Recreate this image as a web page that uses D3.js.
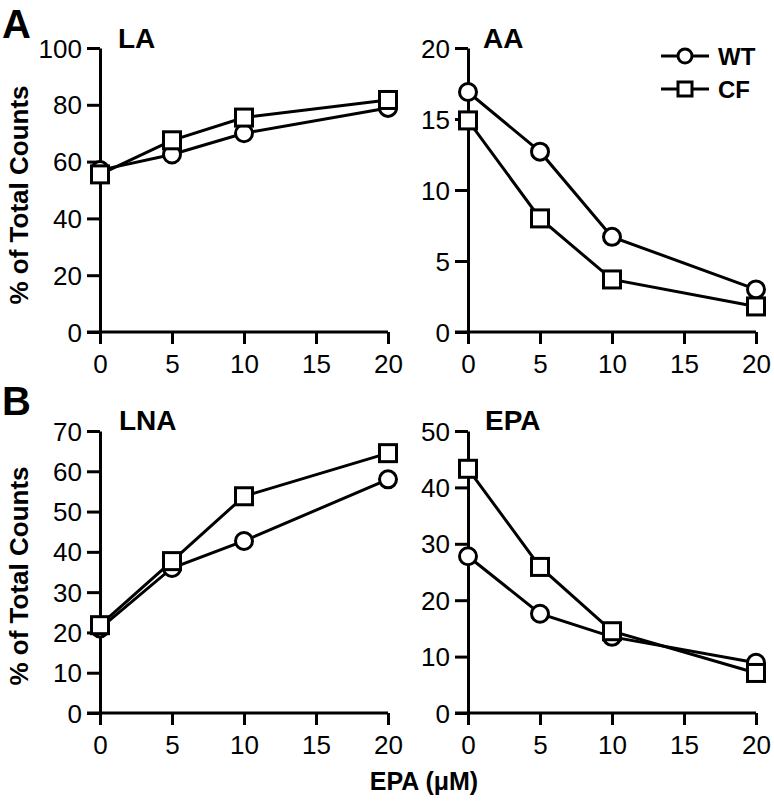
<!DOCTYPE html>
<html><head><meta charset="utf-8">
<script src="https://cdn.jsdelivr.net/npm/d3@7"></script>
<style>body{margin:0;background:#fff}svg{display:block}text{font-family:"Liberation Sans",Arial,sans-serif}</style>
</head><body>
<script>
const doses = [0, 5, 10, 20];
const xTicks = [0, 5, 10, 15, 20];
const seriesNames = ["WT", "CF"];
const panelTitles = ["LA", "AA", "LNA", "EPA"];
const laWT = [57, 62.5, 70, 78.9];
const laCF = [55.5, 67.5, 75.5, 81.7];
const aaWT = [16.9, 12.7, 6.7, 3.0];
const aaCF = [14.9, 8.0, 3.7, 1.8];
const lnaWT = [21, 36, 42.7, 58];
const lnaCF = [21.8, 37.7, 53.8, 64.5];
const epaWT = [27.8, 17.6, 13.5, 8.9];
const epaCF = [43.3, 25.9, 14.5, 7.1];
const yMax = [100, 20, 70, 50];
const yStep = [20, 5, 10, 10];
const yLabel = "% of Total Counts";
const xLabel = "EPA (\u03BCM)";

const W = 774, H = 802;
const svg = d3.select("body").append("svg").attr("width", W).attr("height", H);

const panels = [
  {title: panelTitles[0], wt: laWT, cf: laCF, ymax: yMax[0], step: yStep[0], x0: 100, x1: 388, y0: 332, y1: 48, tx: 118, ty: 48},
  {title: panelTitles[1], wt: aaWT, cf: aaCF, ymax: yMax[1], step: yStep[1], x0: 468, x1: 756, y0: 332, y1: 48, tx: 483, ty: 48},
  {title: panelTitles[2], wt: lnaWT, cf: lnaCF, ymax: yMax[2], step: yStep[2], x0: 100, x1: 388, y0: 713, y1: 431, tx: 119, ty: 430},
  {title: panelTitles[3], wt: epaWT, cf: epaCF, ymax: yMax[3], step: yStep[3], x0: 468, x1: 756, y0: 713, y1: 431, tx: 485, ty: 430}
];

const SW = 3;
panels.forEach(p => {
  const x = d3.scaleLinear().domain([0, 20]).range([p.x0, p.x1]);
  const y = d3.scaleLinear().domain([0, p.ymax]).range([p.y0, p.y1]);
  const yt = d3.range(0, p.ymax + 0.001, p.step);
  const gx = svg.append("g").attr("transform", `translate(0,${p.y0})`)
    .call(d3.axisBottom(x).tickValues(xTicks).tickSize(12).tickPadding(11).tickSizeOuter(0));
  const gy = svg.append("g").attr("transform", `translate(${p.x0},0)`)
    .call(d3.axisLeft(y).tickValues(yt).tickSize(13).tickPadding(5).tickSizeOuter(0));
  [gx, gy].forEach(g => {
    g.select(".domain").attr("stroke", "#000").attr("stroke-width", SW);
    g.selectAll(".tick line").attr("stroke", "#000").attr("stroke-width", SW);
    g.selectAll(".tick text").attr("fill", "#000").style("font-size", "26px");
  });
  gy.selectAll(".tick text").attr("dy", "0.35em");
  gx.selectAll(".tick text").attr("dy", "0.71em");
  gx.select(".domain").attr("d", `M${p.x0 - 13},0H${p.x1}`);

  const line = d3.line().x((d, i) => x(doses[i])).y(d => y(d));
  svg.append("path").datum(p.wt).attr("d", line).attr("fill", "none").attr("stroke", "#000").attr("stroke-width", SW);
  svg.append("g").selectAll("circle").data(p.wt).join("circle")
    .attr("cx", (d, i) => x(doses[i])).attr("cy", d => y(d)).attr("r", 8.5)
    .attr("fill", "#fff").attr("stroke", "#000").attr("stroke-width", SW);
  svg.append("path").datum(p.cf).attr("d", line).attr("fill", "none").attr("stroke", "#000").attr("stroke-width", SW);
  svg.append("g").selectAll("rect").data(p.cf).join("rect")
    .attr("x", (d, i) => x(doses[i]) - 8.5).attr("y", d => y(d) - 8.5).attr("width", 17).attr("height", 17)
    .attr("fill", "#fff").attr("stroke", "#000").attr("stroke-width", SW);

  svg.append("text").attr("x", p.tx).attr("y", p.ty).text(p.title)
    .style("font-size", "28px").style("font-weight", "bold");
});

svg.append("text").attr("x", 2).attr("y", 38).text("A").style("font-size", "40px").style("font-weight", "bold");
svg.append("text").attr("x", 2).attr("y", 415).text("B").style("font-size", "40px").style("font-weight", "bold");

[195, 576].forEach(cy => {
  svg.append("text").attr("transform", `translate(28,${cy}) rotate(-90)`).attr("text-anchor", "middle")
    .text(yLabel).style("font-size", "26px").style("font-weight", "bold");
});
svg.append("text").attr("x", 424).attr("y", 790).attr("text-anchor", "middle").text(xLabel)
  .style("font-size", "25px").style("font-weight", "bold");

const leg = svg.append("g");
[56, 89].forEach((ly, i) => {
  leg.append("line").attr("x1", 661).attr("x2", 709).attr("y1", ly).attr("y2", ly).attr("stroke", "#000").attr("stroke-width", SW);
  if (i === 0) leg.append("circle").attr("cx", 685).attr("cy", ly).attr("r", 7).attr("fill", "#fff").attr("stroke", "#000").attr("stroke-width", SW);
  else leg.append("rect").attr("x", 678).attr("y", ly - 7).attr("width", 14).attr("height", 14).attr("fill", "#fff").attr("stroke", "#000").attr("stroke-width", SW);
  leg.append("text").attr("x", 718).attr("y", ly + 9).text(seriesNames[i]).style("font-size", "24px").style("font-weight", "bold");
});
</script>
</body></html>
